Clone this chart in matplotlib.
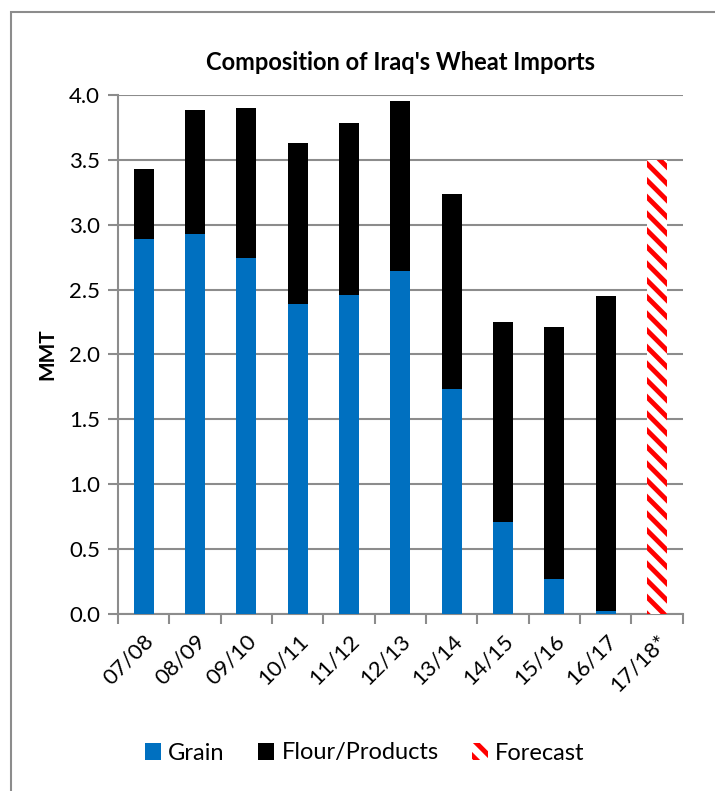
import matplotlib

matplotlib.use("Agg")
import matplotlib.pyplot as plt
from matplotlib.patches import Patch, Rectangle

plt.rcParams["font.family"] = ["Lato", "DejaVu Sans"]
plt.rcParams["hatch.linewidth"] = 3.5

years = ["07/08", "08/09", "09/10", "10/11", "11/12", "12/13",
         "13/14", "14/15", "15/16", "16/17", "17/18*"]
grain = [2.89, 2.93, 2.74, 2.39, 2.46, 2.64, 1.73, 0.71, 0.27, 0.02]
total = [3.43, 3.88, 3.90, 3.63, 3.78, 3.95, 3.24, 2.25, 2.21, 2.45]
forecast = 3.50

BLUE = "#0070c0"
RED = "#ff0000"
GRID = "#8c8c8c"

fig = plt.figure(figsize=(7.15, 7.91), dpi=100)
ax = fig.add_axes([0.165, 0.2238, 0.79, 0.6562])

# chart border (only left/top edges fall inside the picture)
fig.patches.append(Rectangle((11 / 715, -0.05), 1.2, 1 - 12 / 791 + 0.05,
                             transform=fig.transFigure, fill=False,
                             edgecolor="#8c8c8c", linewidth=1.5))

x = list(range(len(years)))
flour = [t - g for t, g in zip(total, grain)]
w = 0.39
ax.bar(x[:10], grain, width=w, color=BLUE, zorder=3)
ax.bar(x[:10], flour, bottom=grain, width=w, color="black", zorder=3)
ax.bar(x[10], forecast, width=w, facecolor="white", edgecolor=RED,
       linewidth=0, hatch="\\\\", zorder=3)

ax.set_xlim(-0.5, len(years) - 0.5)
ax.set_ylim(0, 4.0)
ax.set_yticks([i * 0.5 for i in range(9)])
ax.set_yticklabels([f"{i * 0.5:.1f}" for i in range(9)], fontsize=16)
ax.yaxis.grid(True, color=GRID, linewidth=1.5, zorder=0)
ax.set_axisbelow(True)

ax.set_xticks(x)
ax.set_xticklabels(years, rotation=45, ha="right", rotation_mode="anchor",
                   fontsize=16)
ax.tick_params(axis="x", length=0, pad=12)
ax.set_xticks([i + 0.5 for i in range(-1, len(years))], minor=True)
ax.tick_params(axis="x", which="minor", length=7, color=GRID, width=1.5)
ax.tick_params(axis="y", length=7, color=GRID, width=1.5, pad=6)

for s in ("top", "right"):
    ax.spines[s].set_visible(False)
for s in ("left", "bottom"):
    ax.spines[s].set_color(GRID)
    ax.spines[s].set_linewidth(1.5)

ax.set_ylabel("MMT", fontsize=15, fontweight="bold", labelpad=8)
ax.set_title("Composition of Iraq's Wheat Imports", fontsize=17,
             fontweight="bold", pad=18)

handles = [
    Patch(facecolor=BLUE, label="Grain"),
    Patch(facecolor="black", label="Flour/Products"),
    Patch(facecolor="white", hatch="\\\\", edgecolor=RED, linewidth=0,
          label="Forecast"),
]
fig.legend(handles=handles, loc="center", bbox_to_anchor=(0.51, 1 - 753 / 791),
           ncol=3, frameon=False, fontsize=17, handlelength=0.7,
           handleheight=0.7, handletextpad=0.3, columnspacing=1.4)

fig.savefig("out.png", dpi=100)
